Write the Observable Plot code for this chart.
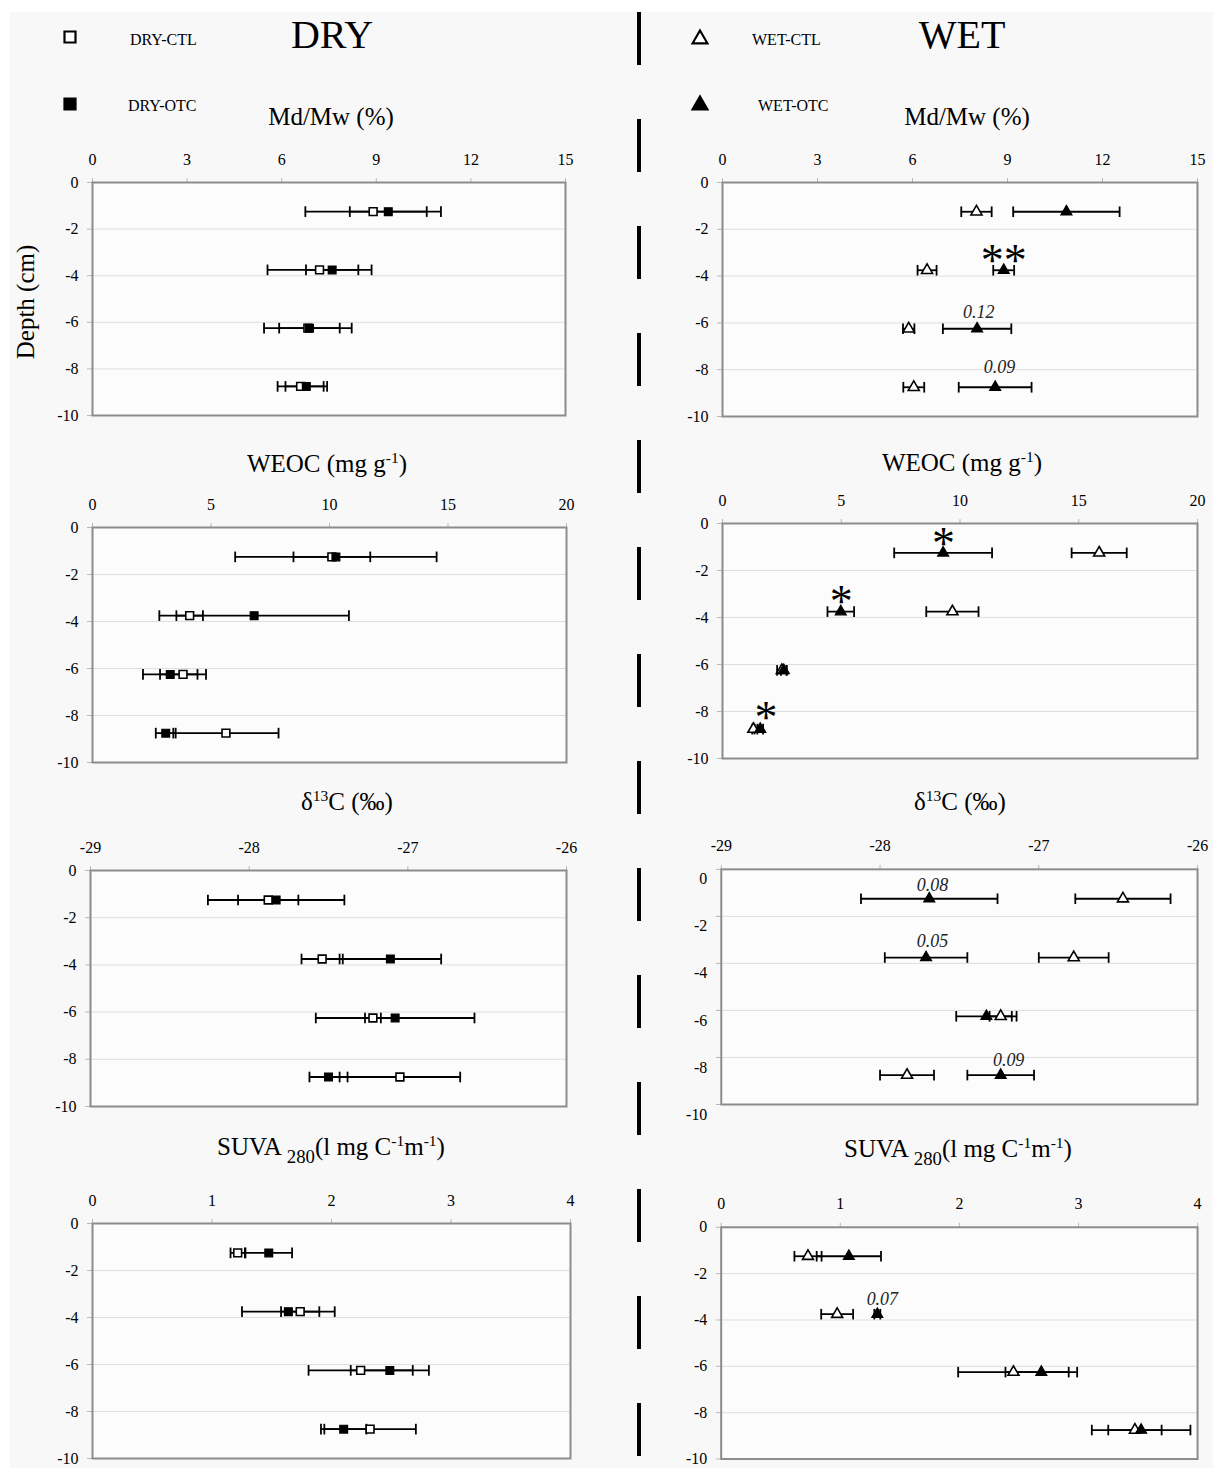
<!DOCTYPE html>
<html>
<head>
<meta charset="utf-8">
<script src="https://cdn.jsdelivr.net/npm/d3@7"></script>
<script src="https://cdn.jsdelivr.net/npm/@observablehq/plot@0.6"></script>
<style>
html, body { margin: 0; padding: 0; background: #ffffff; }
#page { position: relative; width: 1213px; height: 1468px; overflow: hidden;
  font-family: "Liberation Serif", "Times New Roman", serif; color: #000; }
#bg { position: absolute; left: 10px; top: 12px; right: 0; bottom: 0; background: #f8f8f8; }
.panel { position: absolute; }
.panel svg { overflow: visible; }
.t { position: absolute; transform: translate(-50%, -50%); white-space: nowrap; line-height: 30px; }
.title { font-size: 25px; }
.big { font-size: 40px; line-height: 44px; }
.leg { position: absolute; font-size: 16px; line-height: 20px; transform: translateY(-50%); white-space: nowrap; }
.ylab { position: absolute; font-size: 25px; white-space: nowrap; transform: translate(-50%, -50%) rotate(-90deg); }
sup.s { font-size: 0.62em; vertical-align: 0.6em; line-height: 0; }
sub.s { font-size: 0.75em; vertical-align: -0.45em; line-height: 0; }
g[aria-label="x-axis tick"] path, g[aria-label="y-axis tick"] path, .tick line { stroke: #b8b8b8; }
</style>
</head>
<body>
<div id="page"><div id="bg"></div></div>
<script>
// ---------- shared axes ----------
const depths = [-1.25, -3.75, -6.25, -8.75];
const depthTicks = [0, -2, -4, -6, -8, -10];
const gridDepths = [-2, -4, -6, -8];

const mdmwTicks = [0, 3, 6, 9, 12, 15];
const weocTicks = [0, 5, 10, 15, 20];
const d13cTicks = [-29, -28, -27, -26];
const suvaTicks = [0, 1, 2, 3, 4];

// ---------- Md/Mw (%) ----------
const mdmwDryCtl = [8.90, 7.20, 6.83, 6.60];
const mdmwDryCtlErr = [2.15, 1.65, 1.39, 0.73];
const mdmwDryOtc = [9.38, 7.60, 6.88, 6.78];
const mdmwDryOtcErr = [1.22, 0.83, 0.96, 0.66];
const mdmwWetCtl = [8.02, 6.46, 5.88, 6.04];
const mdmwWetCtlErr = [0.48, 0.30, 0.18, 0.33];
const mdmwWetOtc = [10.86, 8.88, 8.04, 8.61];
const mdmwWetOtcErr = [1.68, 0.33, 1.08, 1.15];
const mdmwWetNotes = [
  {label: "**", x: 8.88, depth: -3.0},
  {label: "0.12", x: 8.09, depth: -5.55},
  {label: "0.09", x: 8.75, depth: -7.9}
];

// ---------- WEOC (mg g-1) ----------
const weocDryCtl = [10.10, 4.10, 3.82, 5.63];
const weocDryCtlErr = [1.62, 0.56, 0.97, 2.22];
const weocDryOtc = [10.27, 6.82, 3.28, 3.09];
const weocDryOtcErr = [4.25, 4.00, 1.15, 0.42];
const weocWetCtl = [15.86, 9.68, 2.50, 1.30];
const weocWetCtlErr = [1.16, 1.10, 0.20, 0.05];
const weocWetOtc = [9.29, 4.98, 2.58, 1.59];
const weocWetOtcErr = [2.06, 0.56, 0.12, 0.12];
const weocWetNotes = [
  {label: "*", x: 9.3, depth: -0.5},
  {label: "*", x: 5.0, depth: -2.95},
  {label: "*", x: 1.83, depth: -7.9}
];

// ---------- δ13C (‰) ----------
const d13cDryCtl = [-27.88, -27.54, -27.22, -27.05];
const d13cDryCtlErr = [0.19, 0.13, 0.05, 0.38];
const d13cDryOtc = [-27.83, -27.11, -27.08, -27.50];
const d13cDryOtcErr = [0.43, 0.32, 0.50, 0.12];
const d13cWetCtl = [-26.47, -26.78, -27.24, -27.83];
const d13cWetCtlErr = [0.30, 0.22, 0.07, 0.17];
const d13cWetOtc = [-27.69, -27.71, -27.33, -27.24];
const d13cWetOtcErr = [0.43, 0.26, 0.19, 0.21];
const d13cWetNotes = [
  {label: "0.08", x: -27.67, depth: -0.68},
  {label: "0.05", x: -27.67, depth: -3.05},
  {label: "0.09", x: -27.19, depth: -8.1}
];

// ---------- SUVA280 ----------
const suvaDryCtl = [1.215, 1.738, 2.244, 2.323];
const suvaDryCtlErr = [0.06, 0.16, 0.436, 0.383];
const suvaDryOtc = [1.475, 1.639, 2.488, 2.102];
const suvaDryOtcErr = [0.195, 0.388, 0.327, 0.19];
const suvaWetCtl = [0.729, 0.974, 2.454, 3.474];
const suvaWetCtlErr = [0.114, 0.134, 0.464, 0.224];
const suvaWetOtc = [1.072, 1.311, 2.688, 3.526];
const suvaWetOtcErr = [0.27, 0.025, 0.301, 0.414];
const suvaWetNotes = [
  {label: "0.07", x: 1.353, depth: -3.1}
];

// ---------- text ----------
const panelTitles = {
  mdmw: "Md/Mw (%)",
  weoc: 'WEOC (mg g<sup class="s">-1</sup>)',
  d13c: 'δ<sup class="s">13</sup>C (‰)',
  suva: 'SUVA <sub class="s">280</sub>(l mg C<sup class="s">-1</sup>m<sup class="s">-1</sup>)'
};
const legendLabels = ["DRY-CTL", "DRY-OTC", "WET-CTL", "WET-OTC"];
const sideTitles = ["DRY", "WET"];
const depthLabel = "Depth (cm)";

// ---------- layout (pixels) ----------
const panels = [
  {key: "mdmw", domain: [0, 15], ticks: mdmwTicks, shape: "square", L: 92, R: 565, T: 182, B: 415, tx: 331, ty: 117,
   ctl: mdmwDryCtl, ctlErr: mdmwDryCtlErr, otc: mdmwDryOtc, otcErr: mdmwDryOtcErr, notes: []},
  {key: "mdmw", domain: [0, 15], ticks: mdmwTicks, shape: "triangle", L: 722, R: 1197, T: 182, B: 416, tx: 967, ty: 117,
   ctl: mdmwWetCtl, ctlErr: mdmwWetCtlErr, otc: mdmwWetOtc, otcErr: mdmwWetOtcErr, notes: mdmwWetNotes},
  {key: "weoc", domain: [0, 20], ticks: weocTicks, shape: "square", L: 92, R: 566, T: 527, B: 762, tx: 327, ty: 464,
   ctl: weocDryCtl, ctlErr: weocDryCtlErr, otc: weocDryOtc, otcErr: weocDryOtcErr, notes: []},
  {key: "weoc", domain: [0, 20], ticks: weocTicks, shape: "triangle", L: 722, R: 1197, T: 523, B: 758, tx: 962, ty: 463,
   ctl: weocWetCtl, ctlErr: weocWetCtlErr, otc: weocWetOtc, otcErr: weocWetOtcErr, notes: weocWetNotes},
  {key: "d13c", domain: [-29, -26], ticks: d13cTicks, shape: "square", L: 90, R: 566, T: 870, B: 1106, tx: 347, ty: 802,
   ctl: d13cDryCtl, ctlErr: d13cDryCtlErr, otc: d13cDryOtc, otcErr: d13cDryOtcErr, notes: []},
  {key: "d13c", domain: [-29, -26], ticks: d13cTicks, shape: "triangle", L: 721, R: 1199, T: 869, B: 1105, tx: 960, ty: 802, shift: 10,
   ctl: d13cWetCtl, ctlErr: d13cWetCtlErr, otc: d13cWetOtc, otcErr: d13cWetOtcErr, notes: d13cWetNotes},
  {key: "suva", domain: [0, 4], ticks: suvaTicks, shape: "square", L: 92, R: 570, T: 1223, B: 1458, tx: 331, ty: 1147,
   ctl: suvaDryCtl, ctlErr: suvaDryCtlErr, otc: suvaDryOtc, otcErr: suvaDryOtcErr, notes: []},
  {key: "suva", domain: [0, 4], ticks: suvaTicks, shape: "triangle", L: 721, R: 1200, T: 1227, B: 1460, tx: 958, ty: 1149,
   ctl: suvaWetCtl, ctlErr: suvaWetCtlErr, otc: suvaWetOtc, otcErr: suvaWetOtcErr, notes: suvaWetNotes}
];

const page = document.getElementById("page");
const FONT = '"Liberation Serif", "Times New Roman", serif';

// vertical error-bar cap as a custom symbol
const capSymbol = {
  draw(ctx, size) {
    const h = Math.sqrt(size) / 2;
    ctx.moveTo(0, -h);
    ctx.lineTo(0, h);
  }
};

function addText(html, x, y, cls) {
  const d = document.createElement("div");
  d.className = cls;
  d.style.left = x + "px";
  d.style.top = y + "px";
  d.innerHTML = html;
  page.appendChild(d);
  return d;
}

function makePanel(p) {
  const mL = 62, mR = 16, mT = 40, mB = 16;
  const width = (p.R - p.L) + mL + mR;
  const height = (p.B - p.T) + mT + mB;
  const rows = [];
  depths.forEach((d, i) => {
    rows.push({group: "CTL", depth: d, mean: p.ctl[i], err: p.ctlErr[i]});
    rows.push({group: "OTC", depth: d, mean: p.otc[i], err: p.otcErr[i]});
  });
  const ctlRows = rows.filter(r => r.group === "CTL");
  const otcRows = rows.filter(r => r.group === "OTC");
  const stars = p.notes.filter(n => n.label.includes("*"));
  const pvals = p.notes.filter(n => !n.label.includes("*"));
  const r = p.shape === "square" ? 4.4 : 4.1;

  const chart = Plot.plot({
    width, height,
    marginLeft: mL, marginRight: mR, marginTop: mT, marginBottom: mB,
    style: {background: "transparent", fontFamily: FONT, fontSize: "16px", color: "#000", overflow: "visible"},
    x: {domain: p.domain, ticks: p.ticks, axis: "top", label: null, tickSize: 5, tickPadding: 13, tickFormat: d => String(d)},
    y: {domain: [-10, 0], ticks: depthTicks, label: null, tickSize: 5, tickPadding: 9, tickFormat: d => String(d)},
    marks: [
      Plot.frame({fill: "#fcfcfc", stroke: "none"}),
      Plot.ruleY(gridDepths, {stroke: "#dedede", strokeWidth: 1}),
      Plot.frame({stroke: "#8c8c8c", strokeWidth: 2}),
      Plot.ruleY(rows, {y: "depth", x1: d => d.mean - d.err, x2: d => d.mean + d.err, stroke: "#000", strokeWidth: 1.8}),
      Plot.dot(rows, {x: d => d.mean - d.err, y: "depth", symbol: capSymbol, r: 6, fill: "none", stroke: "#000", strokeWidth: 1.8}),
      Plot.dot(rows, {x: d => d.mean + d.err, y: "depth", symbol: capSymbol, r: 6, fill: "none", stroke: "#000", strokeWidth: 1.8}),
      Plot.dot(ctlRows, {x: "mean", y: "depth", symbol: p.shape, r, fill: "#fff", stroke: "#000", strokeWidth: 1.6}),
      Plot.dot(otcRows, {x: "mean", y: "depth", symbol: p.shape, r, fill: "#000", stroke: "#000", strokeWidth: 1.2}),
      Plot.text(stars, {x: "x", y: "depth", text: "label", fontSize: 46, dy: 9, fontFamily: FONT, fill: "#000"}),
      Plot.text(pvals, {x: "x", y: "depth", text: "label", fontSize: 18, fontStyle: "italic", fontFamily: FONT, fill: "#222"})
    ]
  });

  // the WET δ13C panel has its depth labels printed slightly below the gridlines
  if (p.shift) {
    d3.select(chart).selectAll('g[aria-label="y-axis tick label"], g[aria-label="y-axis"]').each(function() {
      const t = this.getAttribute("transform") || "";
      this.setAttribute("transform", (t + " translate(0," + p.shift + ")").trim());
    });
  }

  const wrap = document.createElement("div");
  wrap.className = "panel";
  wrap.style.left = (p.L - mL) + "px";
  wrap.style.top = (p.T - mT) + "px";
  wrap.appendChild(chart);
  page.appendChild(wrap);

  addText(panelTitles[p.key], p.tx, p.ty, "t title");
}

panels.forEach(makePanel);

// side titles
addText(sideTitles[0], 332, 35, "t big");
addText(sideTitles[1], 962, 35, "t big");

// y-axis title
const yl = document.createElement("div");
yl.className = "ylab";
yl.style.left = "26px";
yl.style.top = "302px";
yl.textContent = depthLabel;
page.appendChild(yl);

// legend
const legendItems = [
  {label: legendLabels[0], shape: d3.symbolSquare, size: 121, fill: "#fff", mx: 70, my: 37, tx: 130, ty: 40},
  {label: legendLabels[1], shape: d3.symbolSquare, size: 121, fill: "#000", mx: 70, my: 104, tx: 128, ty: 106},
  {label: legendLabels[2], shape: d3.symbolTriangle, size: 95, fill: "#fff", mx: 700, my: 39, tx: 752, ty: 40},
  {label: legendLabels[3], shape: d3.symbolTriangle, size: 95, fill: "#000", mx: 700, my: 105, tx: 758, ty: 106}
];
legendItems.forEach(it => {
  const svg = d3.create("svg").attr("width", 30).attr("height", 30)
    .style("position", "absolute").style("left", (it.mx - 15) + "px").style("top", (it.my - 15) + "px");
  svg.append("path").attr("transform", "translate(15,15)")
    .attr("d", d3.symbol(it.shape, it.size)())
    .attr("fill", it.fill).attr("stroke", "#000").attr("stroke-width", 2.2);
  page.appendChild(svg.node());
  const d = document.createElement("div");
  d.className = "leg";
  d.style.left = it.tx + "px";
  d.style.top = it.ty + "px";
  d.textContent = it.label;
  page.appendChild(d);
});

// dashed divider
const div = d3.create("svg").attr("width", 10).attr("height", 1468)
  .style("position", "absolute").style("left", "634px").style("top", "0px");
div.append("line").attr("x1", 5).attr("x2", 5).attr("y1", 12).attr("y2", 1468)
  .attr("stroke", "#000").attr("stroke-width", 4).attr("stroke-dasharray", "53 54");
page.appendChild(div.node());
</script>
</body>
</html>
